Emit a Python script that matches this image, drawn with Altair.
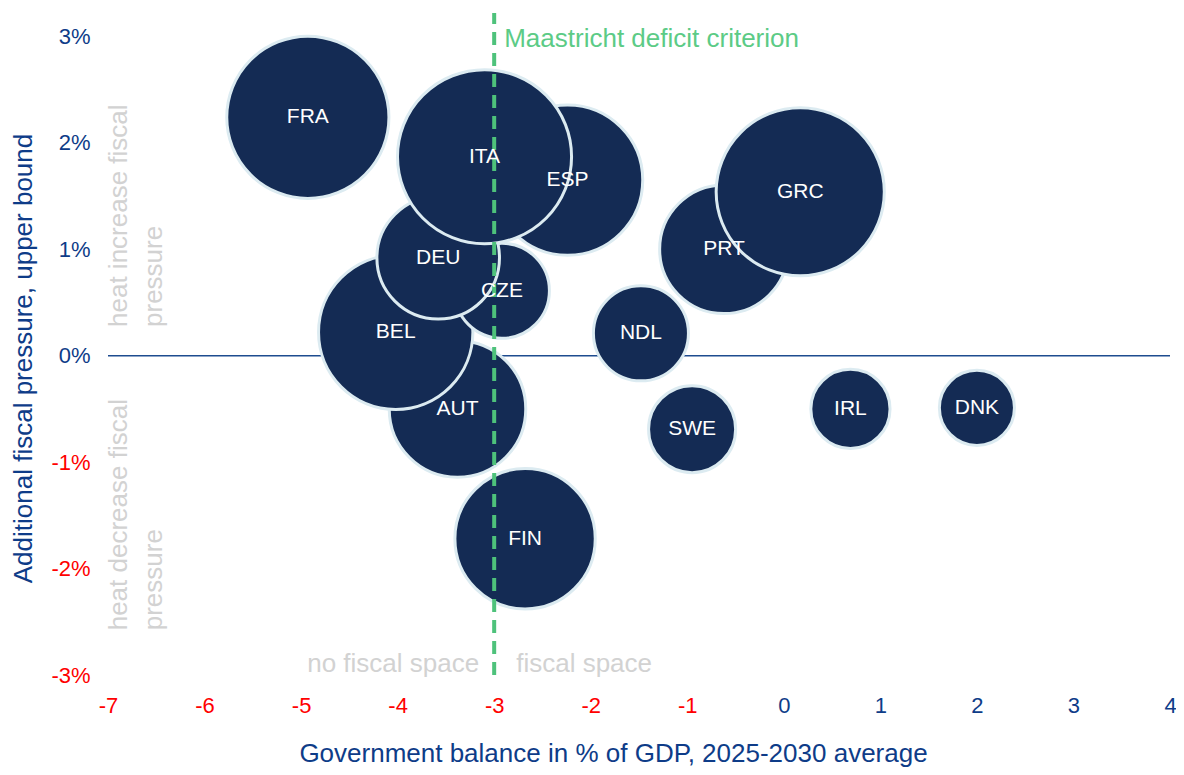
import altair as alt
import pandas as pd

# ---- data ----
countries = ["FIN", "AUT", "BEL", "CZE", "ESP", "DEU", "ITA", "PRT", "GRC", "FRA", "NDL", "SWE", "IRL", "DNK"]
balance = [-2.68, -3.38, -4.02, -2.92, -2.24, -3.58, -3.10, -0.62, 0.17, -4.93, -1.48, -0.95, 0.69, 2.00]
pressure = [-1.72, -0.50, 0.22, 0.61, 1.65, 0.92, 1.87, 1.00, 1.54, 2.24, 0.21, -0.69, -0.50, -0.49]
bubble = [65.0, 61.5, 78.6, 29.8, 74.6, 49.6, 100.0, 54.6, 93.3, 86.8, 29.8, 25.0, 20.7, 18.6]

x_ticks = [-7, -6, -5, -4, -3, -2, -1, 0, 1, 2, 3, 4]
y_ticks = [-3, -2, -1, 0, 1, 2, 3]
criterion = -3.0

df = pd.DataFrame({"country": countries, "balance": balance, "pressure": pressure,
                   "bubble": bubble, "z": list(range(len(countries)))})

FONT = "Liberation Sans"
NAVY = "#142B54"
BLUE = "#0E3C88"
GREY = "#D2D2D2"

W, H = 1062, 662

xs = alt.Scale(domain=[-7, 4], nice=False, zero=False)
ys = alt.Scale(domain=[-3, 3.22], nice=False, zero=False)

label_color = alt.ExprRef("datum.value < 0 ? '#FF0000' : '" + BLUE + "'")

xaxis = alt.Axis(values=x_ticks, labelExpr="'' + datum.value", grid=False, domain=False, ticks=False,
                 labelFontSize=22, labelFont=FONT, labelPadding=20, labelColor=label_color,
                 labelOverlap=False, labelBound=False, labelFlush=False,
                 title="Government balance in % of GDP, 2025-2030 average",
                 titleFont=FONT, titleFontSize=26, titleFontWeight="normal", titleColor=BLUE,
                 titleX=505, titleY=78, titleAnchor="middle", titleAlign="center", titleBaseline="middle")
yaxis = alt.Axis(values=y_ticks, labelExpr="datum.value + '%'", grid=False, domain=False, ticks=False,
                 labelFontSize=22, labelFont=FONT, labelPadding=18, labelColor=label_color,
                 labelOverlap=False, labelBound=False, labelFlush=False,
                 title="Additional fiscal pressure, upper bound",
                 titleFont=FONT, titleFontSize=26, titleFontWeight="normal", titleColor=BLUE,
                 titleX=-85, titleY=345, titleAngle=270, titleAlign="center", titleBaseline="middle")

base = alt.Chart(df)

zero_line = alt.Chart(pd.DataFrame({"x": [-7], "x2": [4], "y": [0]})).mark_rule(
    color="#1E4C8F", strokeWidth=1.5).encode(
    x=alt.X("x:Q", scale=xs, axis=xaxis), x2="x2:Q",
    y=alt.Y("y:Q", scale=ys, axis=yaxis))

bubbles = base.mark_point(filled=True, shape="circle", fill=NAVY, fillOpacity=1,
                          stroke="#DCEBF1", strokeWidth=3, strokeOpacity=1, opacity=1).encode(
    x=alt.X("balance:Q", scale=xs),
    y=alt.Y("pressure:Q", scale=ys),
    size=alt.Size("bubble:Q", scale=alt.Scale(domain=[0, 100], range=[0, 30300]), legend=None),
    order=alt.Order("z:Q"))

dash = alt.Chart(pd.DataFrame({"x": [criterion], "y": [-3], "y2": [3.22]})).mark_rule(
    color="#4EC27B", strokeWidth=4, strokeDash=[13, 8]).encode(
    x=alt.X("x:Q", scale=xs), y=alt.Y("y:Q", scale=ys), y2="y2:Q")

labels = base.mark_text(color="white", font=FONT, fontSize=21).encode(
    x=alt.X("balance:Q", scale=xs), y=alt.Y("pressure:Q", scale=ys), text="country:N")

crit_text = alt.Chart(pd.DataFrame({"x": [criterion], "y": [2.98], "t": ["Maastricht deficit criterion"]})).mark_text(
    color="#5CCB86", font=FONT, fontSize=26, align="left", baseline="middle", dx=10).encode(
    x=alt.X("x:Q", scale=xs), y=alt.Y("y:Q", scale=ys), text="t:N")

space_df = pd.DataFrame({"x": [criterion, criterion], "y": [-2.9, -2.9],
                         "t": ["no fiscal space", "fiscal space"], "a": ["right", "left"]})
no_space = alt.Chart(space_df[space_df.a == "right"]).mark_text(
    color=GREY, font=FONT, fontSize=26, align="right", baseline="middle", dx=-15).encode(
    x=alt.X("x:Q", scale=xs), y=alt.Y("y:Q", scale=ys), text="t:N")
yes_space = alt.Chart(space_df[space_df.a == "left"]).mark_text(
    color=GREY, font=FONT, fontSize=26, align="left", baseline="middle", dx=22).encode(
    x=alt.X("x:Q", scale=xs), y=alt.Y("y:Q", scale=ys), text="t:N")

heat_df = pd.DataFrame({"x": [-6.89, -6.52, -6.89, -6.52], "y": [0.27, 0.27, -2.58, -2.58],
                        "t": ["heat  increase fiscal", "pressure", "heat decrease fiscal", "pressure"]})
heat = alt.Chart(heat_df).mark_text(
    color=GREY, font=FONT, fontSize=26, align="left", baseline="middle", angle=270).encode(
    x=alt.X("x:Q", scale=xs), y=alt.Y("y:Q", scale=ys), text="t:N")

chart = alt.layer(zero_line, bubbles, dash, labels, crit_text, no_space, yes_space, heat).properties(
    width=W, height=H,
    background="white",
    autosize=alt.AutoSizeParams(type="none"),
    padding={"left": 100, "top": 5, "right": 6, "bottom": 92},
).configure_view(strokeWidth=0, stroke="transparent")

chart.save("out.html", embed_options={"renderer": "svg", "actions": False})
